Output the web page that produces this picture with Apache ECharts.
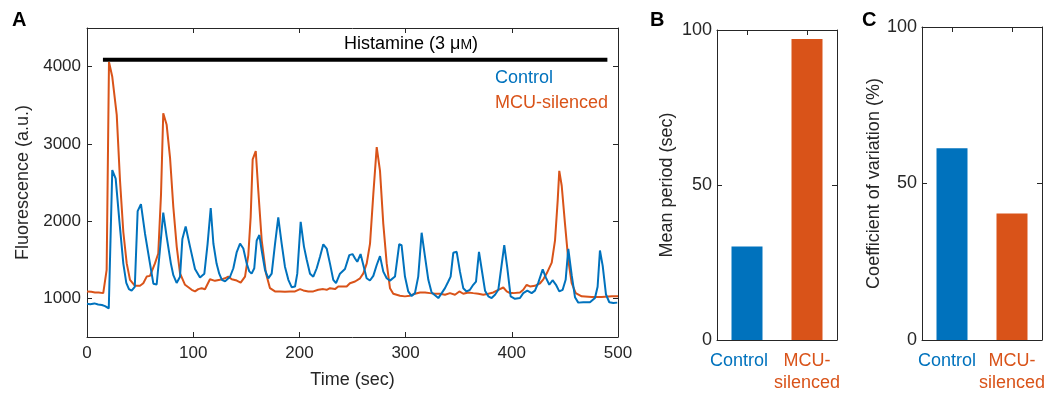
<!DOCTYPE html>
<html>
<head>
<meta charset="utf-8">
<script src="https://cdn.jsdelivr.net/npm/echarts@6/dist/echarts.min.js"></script>
<style>
html,body{margin:0;padding:0;background:#fff;}
#chart{width:1051px;height:394px;}
</style>
</head>
<body>
<div id="chart"></div>
<script>
// ---------- DATA ----------
// Panel A: fluorescence traces, [time (sec), fluorescence (a.u.)]
const controlTrace = [
[0,930],[3,925],[7,935],[10.5,920],[14,915],[17,900],[20.5,870],[23.8,2660],[27,2550],[30.5,2000],
[34.2,1450],[37,1200],[39.5,1120],[42,1100],[45,1150],[47.7,2130],[50.8,2220],[54.6,1840],[59.3,1450],[62.5,1190],
[65.6,1180],[68.5,1600],[71.8,2110],[75,1800],[79,1450],[81.3,1300],[84.4,1200],[87.6,1280],[89.8,1770],[92.9,1930],
[97,1670],[101.7,1380],[106.4,1270],[110.5,1320],[113.5,1700],[116.5,2170],[119,1710],[122,1450],[124.5,1320],[127,1240],
[130,1220],[134.7,1280],[137.8,1390],[141,1600],[144.1,1710],[147.2,1645],[150.4,1450],[152.8,1350],[155,1320],[157.5,1390],
[159.8,1750],[162.3,1820],[164.5,1620],[167.6,1370],[170.7,1260],[173.9,1320],[177,1700],[180.1,2050],[183.3,1710],[186.4,1410],
[189.6,1240],[192.7,1145],[195.9,1154],[198,1320],[201.2,1990],[204.3,1670],[206.9,1500],[210,1320],[213.1,1280],[216.3,1390],
[219.4,1540],[222.5,1700],[225.7,1645],[228.8,1450],[231.9,1240],[234.5,1196],[238.2,1320],[242.9,1380],[247,1560],[250,1573],
[252.4,1517],[254.5,1474],[257.6,1573],[260.2,1432],[263.3,1260],[266.4,1231],[269.6,1291],[272.8,1432],[275.9,1547],[279,1346],
[282.2,1260],[285.3,1230],[290,1282],[294,1701],[296.2,1688],[299.4,1282],[302.5,1090],[305.6,1030],[308.8,1068],[311.9,1282],
[315.1,1850],[318.3,1538],[321.4,1240],[324.5,1077],[327.7,1040],[330.8,1004],[334,1068],[337.1,1132],[340.2,1218],[342.4,1282],
[344.9,1590],[348.1,1603],[351.2,1346],[354.3,1132],[357.4,1090],[360.6,1111],[363.7,1176],[366.3,1218],[369.1,1603],[371.6,1380],
[374.8,1100],[377.9,1026],[381,1004],[384.2,1047],[387.3,1111],[390.4,1432],[392.9,1688],[395.7,1400],[398.9,1026],[403,995],
[407.7,1004],[410.8,1068],[414.6,1100],[418.7,1068],[421.8,1100],[424.9,1200],[429.1,1376],[432.2,1265],[435.3,1176],[438.4,1235],
[441.6,1176],[444.7,1090],[447.9,1111],[450.7,1240],[453.2,1640],[456.4,1300],[459.5,1015],[462.6,945],[467.3,949],[473.6,949],
[478.3,1004],[480.8,1150],[483,1620],[485.6,1420],[488.7,1050],[491.8,950],[495.6,940],[499.3,945]
];
const mcuTrace = [
[0,1090],[4,1085],[7.5,1077],[11,1075],[15.3,1068],[18.5,1368],[20.7,4060],[23.8,3868],[28,3375],[31.1,2521],
[34.2,1859],[37.4,1453],[40.5,1240],[45.2,1163],[49.9,1163],[53,1196],[56.2,1282],[59.3,1291],[64,1453],[67.1,1581],
[69.7,2350],[71.8,3397],[75,3247],[78.2,2820],[81.3,2180],[84.5,1667],[87.6,1324],[92.3,1176],[98.6,1111],[101.7,1090],
[104.8,1120],[108,1130],[111.1,1119],[115.8,1247],[120.5,1227],[125.2,1240],[129.9,1260],[133,1282],[136.3,1247],[141,1231],
[144.7,1205],[148.8,1282],[151.9,1560],[154.1,2051],[156,2799],[158.9,2906],[161.3,2393],[164.5,1752],[168.5,1324],[172.3,1132],
[177,1090],[181.7,1090],[186.4,1085],[191.1,1090],[195.9,1090],[200.6,1119],[203.7,1103],[208.4,1090],[213.1,1090],[217.8,1111],
[222.5,1120],[225.7,1111],[228.8,1132],[233.5,1120],[236.6,1154],[241.3,1154],[244.5,1154],[247.6,1196],[252.4,1218],[257.1,1260],
[260.2,1324],[263.4,1453],[266.5,1709],[269.6,2350],[272.8,2958],[275.9,2650],[279,1965],[282.2,1453],[285.3,1132],[288.4,1060],
[294.7,1035],[299.4,1026],[304,1035],[308.8,1060],[313.6,1077],[318.3,1077],[323,1068],[327.7,1060],[332.4,1060],[337.1,1047],
[341.8,1068],[346.5,1047],[350.6,1090],[354.3,1060],[359,1077],[363.7,1068],[368.5,1060],[373.2,1047],[377.9,1060],[382.6,1077],
[387.3,1111],[392,1141],[395.2,1090],[398.3,1068],[401.4,1068],[407.7,1077],[410.8,1111],[414,1176],[417.1,1154],[421.8,1163],
[426.6,1196],[429.7,1247],[432.9,1324],[437.6,1462],[440.7,1752],[443.2,2265],[444.7,2650],[447,2458],[450.1,1965],[453.2,1496],
[456.4,1196],[460.2,1068],[465.8,1026],[475.2,1017],[484.7,1017],[494.1,1026],[500,1026]
];
const histamineSpan = [15, 490];   // sec
const histamineLevel = 4090;        // a.u. (drawn bar level)
const histamineLabel = 'Histamine (3 μ';

const xTicksA = [0, 100, 200, 300, 400, 500];
const yTicksA = [1000, 2000, 3000, 4000];

// Panels B and C
const groups = ['Control', 'MCU-silenced'];
const meanPeriod = [30.2, 97.1];          // sec
const coefVariation = [61.3, 40.4];       // %
const yTicksBC = [0, 50, 100];

// ---------- STYLE ----------
const BLUE = '#0072BD', ORANGE = '#D95319', INK = '#262626';
const FONT = 'Liberation Sans, Arial, Helvetica, sans-serif';
const groupColors = [BLUE, ORANGE];

const chart = echarts.init(document.getElementById('chart'), null, {renderer: 'canvas'});

function boxX(gridIndex, extra) {
  return Object.assign({
    gridIndex,
    axisLine: {show: true, onZero: false, lineStyle: {color: INK, width: 1}},
    axisTick: {show: true, inside: true, length: 5, lineStyle: {color: INK}},
    splitLine: {show: false}
  }, extra);
}

function catData(ctrlShift) {
  return groups.map((g, i) => ({
    value: g === 'MCU-silenced' ? 'MCU-\nsilenced' : g,
    textStyle: {color: groupColors[i], padding: i === 0 ? [0, ctrlShift, 0, 0] : 0}
  }));
}
const catTick = {show: true, inside: true, length: 5, alignWithLabel: true, lineStyle: {color: INK}};
const plain = v => String(v);

const option = {
  animation: false,
  backgroundColor: '#fff',
  textStyle: {fontFamily: FONT, color: INK},
  grid: [
    {left: 87, top: 28, width: 531, height: 313},
    {left: 717, top: 30, width: 120, height: 319},
    {left: 922, top: 27, width: 120, height: 319}
  ],
  legend: {
    orient: 'vertical', left: 485, top: 63, icon: 'none',
    itemWidth: 0, itemHeight: 20, itemGap: 6,
    textStyle: {fontSize: 18, fontFamily: FONT},
    data: [
      {name: 'Control', textStyle: {color: BLUE}},
      {name: 'MCU-silenced', textStyle: {color: ORANGE}}
    ]
  },
  xAxis: [
    boxX(0, {type: 'value', min: xTicksA[0], max: xTicksA[xTicksA.length - 1], interval: 100,
      axisLabel: {fontSize: 17, color: INK, margin: 8, formatter: plain},
      name: 'Time (sec)', nameLocation: 'middle', nameGap: 34,
      nameTextStyle: {fontSize: 18, color: INK}}),
    boxX(0, {type: 'value', position: 'top', min: 0, max: 500, interval: 100, axisLabel: {show: false}}),
    boxX(1, {type: 'category', data: catData(16), axisTick: catTick,
      axisLabel: {fontSize: 18, margin: 10, lineHeight: 22, interval: 0}}),
    boxX(1, {type: 'category', position: 'top', data: catData(16), axisTick: catTick,
      axisLabel: {show: false}}),
    boxX(2, {type: 'category', data: catData(10), axisTick: catTick,
      axisLabel: {fontSize: 18, margin: 10, lineHeight: 22, interval: 0}}),
    boxX(2, {type: 'category', position: 'top', data: catData(10), axisTick: catTick,
      axisLabel: {show: false}})
  ],
  yAxis: [
    boxX(0, {type: 'value', min: 500, max: 4500,
      axisTick: {show: true, inside: true, length: 5, lineStyle: {color: INK}, customValues: yTicksA},
      axisLabel: {fontSize: 17, color: INK, margin: 6, customValues: yTicksA, formatter: plain},
      name: 'Fluorescence (a.u.)', nameLocation: 'middle', nameGap: 54, nameRotate: 90,
      nameTextStyle: {fontSize: 18, color: INK}}),
    boxX(0, {type: 'value', position: 'right', min: 500, max: 4500,
      axisTick: {show: true, inside: true, length: 5, lineStyle: {color: INK}, customValues: yTicksA},
      axisLabel: {show: false, customValues: yTicksA}}),
    boxX(1, {type: 'value', min: 0, max: 100, interval: 50,
      axisLabel: {fontSize: 18, color: INK, margin: 5},
      name: 'Mean period (sec)', nameLocation: 'middle', nameGap: 41, nameRotate: 90,
      nameTextStyle: {fontSize: 18, color: INK}}),
    boxX(1, {type: 'value', position: 'right', min: 0, max: 100, interval: 50, axisLabel: {show: false}}),
    boxX(2, {type: 'value', min: 0, max: 100, interval: 50,
      axisLabel: {fontSize: 18, color: INK, margin: 5},
      name: 'Coefficient of variation (%)', nameLocation: 'middle', nameGap: 34, nameRotate: 90,
      nameTextStyle: {fontSize: 18, color: INK}}),
    boxX(2, {type: 'value', position: 'right', min: 0, max: 100, interval: 50, axisLabel: {show: false}})
  ],
  series: [
    {
      name: 'Histamine', type: 'line', xAxisIndex: 0, yAxisIndex: 0,
      data: histamineSpan.map(t => [t, histamineLevel]),
      symbol: 'none', lineStyle: {color: '#000', width: 4}, silent: true, z: 1
    },
    {
      name: 'MCU-silenced', type: 'line', xAxisIndex: 0, yAxisIndex: 0,
      data: mcuTrace, symbol: 'none', color: ORANGE,
      lineStyle: {color: ORANGE, width: 2}, z: 2
    },
    {
      name: 'Control', type: 'line', xAxisIndex: 0, yAxisIndex: 0,
      data: controlTrace, symbol: 'none', color: BLUE,
      lineStyle: {color: BLUE, width: 2}, z: 3
    },
    {
      name: 'Mean period', type: 'bar', xAxisIndex: 2, yAxisIndex: 2,
      data: meanPeriod.map((v, i) => ({value: v, itemStyle: {color: groupColors[i]}})),
      barWidth: 31
    },
    {
      name: 'Coefficient of variation', type: 'bar', xAxisIndex: 4, yAxisIndex: 4,
      data: coefVariation.map((v, i) => ({value: v, itemStyle: {color: groupColors[i]}})),
      barWidth: 31
    }
  ],
  graphic: [
    {type: 'text', left: 12, top: 10, style: {text: 'A', font: 'bold 20px ' + FONT, fill: '#000'}},
    {type: 'text', left: 650, top: 10, style: {text: 'B', font: 'bold 20px ' + FONT, fill: '#000'}},
    {type: 'text', left: 862, top: 10, style: {text: 'C', font: 'bold 20px ' + FONT, fill: '#000'}},
    {type: 'text', left: 344, top: 35, style: {
      text: histamineLabel + '{s|M})',
      font: '18px ' + FONT, fill: '#000',
      rich: {s: {fontSize: 14, fontFamily: FONT, fill: '#000', padding: [3, 0, 0, 0]}}
    }}
  ]
};
chart.setOption(option);
</script>
</body>
</html>
